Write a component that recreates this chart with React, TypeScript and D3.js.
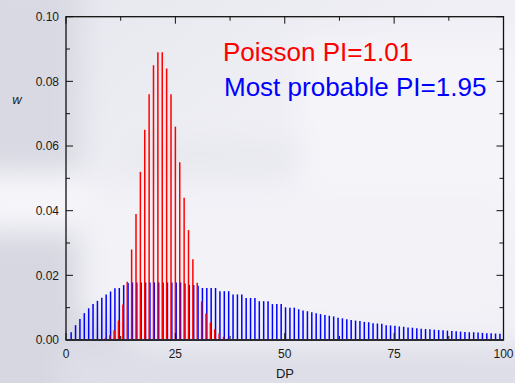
import React from "react";
import * as d3 from "d3";

// Degree of polymerisation axis
const xTicks = [0, 25, 50, 75, 100];
const yTicks = [0, 0.02, 0.04, 0.06, 0.08, 0.1];

// Most probable (Flory) distribution, DP 1..99
const mostProbableStart = 1;
const mostProbable = [
  0.0024, 0.0046, 0.0065, 0.0083, 0.0098, 0.0111, 0.0121, 0.0131, 0.0141, 0.015,
  0.016, 0.0161, 0.017, 0.0176, 0.0178, 0.0178, 0.0178, 0.0178, 0.0178, 0.0178,
  0.0178, 0.0178, 0.0178, 0.0178, 0.0178, 0.0178, 0.0175, 0.017, 0.017, 0.0168,
  0.0161, 0.0161, 0.0161, 0.0161, 0.0151, 0.0151, 0.0151, 0.0141, 0.0141, 0.0141,
  0.013, 0.013, 0.013, 0.012, 0.012, 0.012, 0.0111, 0.0111, 0.0111, 0.0101,
  0.01, 0.01, 0.0095, 0.0091, 0.0089, 0.0086, 0.0083, 0.008, 0.0077, 0.0075,
  0.0073, 0.0069, 0.0067, 0.0064, 0.0062, 0.006, 0.0059, 0.0056, 0.0055, 0.0052,
  0.0051, 0.005, 0.0046, 0.0045, 0.0044, 0.0042, 0.0041, 0.0039, 0.0038, 0.0036,
  0.0035, 0.0034, 0.0033, 0.0032, 0.0031, 0.003, 0.0029, 0.0028, 0.0027, 0.0026,
  0.0025, 0.0024, 0.0024, 0.0023, 0.0022, 0.0021, 0.0021, 0.002, 0.0019,
];

// Poisson distribution, DP 8..38
const poissonStart = 8;
const poisson = [
  0.0003, 0.0006, 0.0015, 0.003, 0.006, 0.011, 0.018, 0.028, 0.039, 0.052,
  0.065, 0.076, 0.085, 0.089, 0.089, 0.084, 0.076, 0.066, 0.055, 0.044,
  0.034, 0.025, 0.0177, 0.0119, 0.0082, 0.0054, 0.0033, 0.002, 0.001, 0.0005,
  0.0002,
];

const W = 515;
const H = 383;
const left = 66;
const right = 503.5;
const top = 16.7;
const bottom = 340;

const font = "Arial, 'Liberation Sans', Helvetica, sans-serif";

export default function App() {
  const x = d3.scaleLinear().domain([0, 100]).range([left, right]);
  const y = d3.scaleLinear().domain([0, 0.1]).range([bottom, top]);

  const blueBars = mostProbable.map((v, i) => ({ dp: mostProbableStart + i, v }));
  const redBars = poisson.map((v, i) => ({ dp: poissonStart + i, v }));

  const xTickAll = d3.range(0, 100.01, 12.5);
  const yTickAll = d3.range(0, 0.1001, 0.01);

  return (
    <svg
      width={W}
      height={H}
      style={{ position: "absolute", left: 0, top: 0 }}
      xmlns="http://www.w3.org/2000/svg"
    >
      <defs>
        <filter id="soft" x="-50%" y="-50%" width="200%" height="200%">
          <feGaussianBlur stdDeviation="14" />
        </filter>
        <linearGradient id="bg" x1="0" y1="0" x2="1" y2="1">
          <stop offset="0" stopColor="#e6e6ee" />
          <stop offset="0.45" stopColor="#efeff5" />
          <stop offset="1" stopColor="#f1f1f7" />
        </linearGradient>
      </defs>

      {/* soft backdrop */}
      <rect x={0} y={0} width={W} height={H} fill="url(#bg)" />
      <g filter="url(#soft)">
        <rect x={-30} y={-20} width={110} height={190} fill="#d9d9e3" />
        <rect x={-30} y={180} width={120} height={40} fill="#f7f7fb" />
        <rect x={-30} y={235} width={160} height={180} fill="#d7d7e1" />
        <rect x={130} y={140} width={170} height={35} fill="#e8e8ef" />
        <rect x={60} y={345} width={480} height={60} fill="#dedee8" />
        <rect x={300} y={40} width={220} height={200} fill="#f4f4f9" />
        <rect x={80} y={190} width={420} height={130} fill="#f2f2f7" />
      </g>

      {/* bars: most probable behind, Poisson on top */}
      <g>
        {blueBars.map((d) => (
          <line
            key={"b" + d.dp}
            x1={x(d.dp) + 0.8}
            x2={x(d.dp) + 0.8}
            y1={y(0)}
            y2={y(d.v)}
            stroke="#0000ff"
            strokeWidth={1.5}
          />
        ))}
        {redBars.map((d) => (
          <line
            key={"r" + d.dp}
            x1={x(d.dp)}
            x2={x(d.dp)}
            y1={y(0)}
            y2={y(d.v)}
            stroke="#ff0000"
            strokeWidth={1.5}
          />
        ))}
      </g>

      {/* inward ticks on all four sides */}
      <g stroke="#111" strokeWidth={1}>
        {xTickAll.map((t) => {
          const major = Math.abs(t % 25) < 1e-6;
          const len = major ? 7 : 4;
          return (
            <g key={"xt" + t}>
              <line x1={x(t)} x2={x(t)} y1={top} y2={top + len} />
              <line x1={x(t)} x2={x(t)} y1={bottom} y2={bottom - len} />
            </g>
          );
        })}
        {yTickAll.map((t, i) => {
          const major = i % 2 === 0;
          const len = major ? 7 : 4;
          return (
            <g key={"yt" + i}>
              <line x1={left} x2={left + len} y1={y(t)} y2={y(t)} />
              <line x1={right} x2={right - len} y1={y(t)} y2={y(t)} />
            </g>
          );
        })}
      </g>

      {/* frame */}
      <rect
        x={left}
        y={top}
        width={right - left}
        height={bottom - top}
        fill="none"
        stroke="#111"
        strokeWidth={1.3}
      />
      <line x1={left} x2={right} y1={bottom} y2={bottom} stroke="#2a2a30" strokeWidth={2.2} />

      {/* tick labels */}
      <g fontFamily={font} fontSize={12} fill="#1a1a1a">
        {yTicks.map((t) => (
          <text key={"yl" + t} x={left - 7} y={y(t)} dy="0.35em" textAnchor="end">
            {t.toFixed(2)}
          </text>
        ))}
        {xTicks.map((t) => (
          <text key={"xl" + t} x={x(t)} y={358} textAnchor="middle">
            {t}
          </text>
        ))}
      </g>

      {/* axis titles */}
      <text x={17} y={104} fontFamily={font} fontSize={13} fontStyle="italic" fill="#1a1a1a" textAnchor="middle">
        w
      </text>
      <text x={285} y={378} fontFamily={font} fontSize={13} fill="#1a1a1a" textAnchor="middle">
        DP
      </text>

      {/* legend */}
      <text x={223} y={61} fontFamily={font} fontSize={26} fill="#ff0000">
        Poisson PI=1.01
      </text>
      <text x={224} y={96} fontFamily={font} fontSize={26} fill="#0000ff">
        Most probable PI=1.95
      </text>
    </svg>
  );
}
